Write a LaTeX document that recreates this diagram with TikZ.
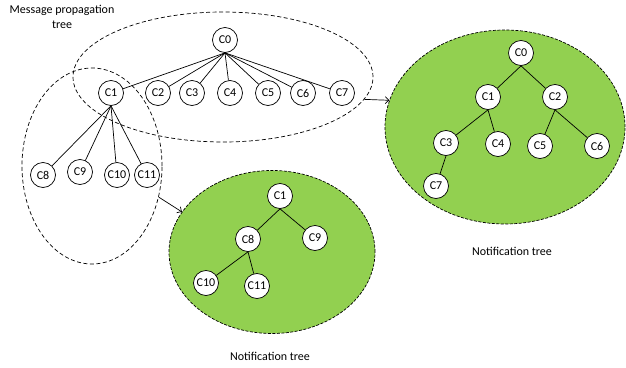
\documentclass[tikz,border=0pt]{standalone}
\usepackage{fontspec}
\setmainfont{Carlito}
\usetikzlibrary{shapes.geometric, arrows.meta}
\definecolor{notifgreen}{RGB}{146,208,80}
\tikzset{
  cnode/.style={circle, draw, fill=white, minimum size=25pt, inner sep=0pt, font=\fontsize{12}{14}\selectfont},
  grouparea/.style={ellipse, draw, dash pattern=on 4pt off 2.5pt, inner sep=0pt},
  notifarea/.style={ellipse, draw, fill=notifgreen, dash pattern=on 3pt off 1.5pt, inner sep=0pt},
  treelabel/.style={font=\fontsize{12}{15.5}\selectfont, align=center}
}
\begin{document}
\begin{tikzpicture}[x=1pt, y=-1pt, line width=0.7pt]
    \useasboundingbox (0,0) rectangle (626,367);

    % Grouping areas
    \node[grouparea, minimum width=300pt, minimum height=130pt] (propA) at (223,77) {};
    \node[grouparea, minimum width=140pt, minimum height=196pt] (propB) at (92,166) {};
    \node[notifarea, minimum width=240pt, minimum height=194pt] (notifA) at (505,127) {};
    \node[notifarea, minimum width=206pt, minimum height=163pt] (notifB) at (272,252) {};

    % Message propagation tree
    \node[cnode] (m0) at (225,40) {C0};
    \node[cnode] (m1) at (111,93) {C1};
    \node[cnode] (m2) at (158,93) {C2};
    \node[cnode] (m3) at (192,93) {C3};
    \node[cnode] (m4) at (230,93) {C4};
    \node[cnode] (m5) at (268,93) {C5};
    \node[cnode] (m6) at (303,93) {C6};
    \node[cnode] (m7) at (342,93) {C7};
    \node[cnode] (m8) at (43,175) {C8};
    \node[cnode] (m9) at (80,172) {C9};
    \node[cnode] (m10) at (117,175) {C10};
    \node[cnode] (m11) at (147,175) {C11};
    \foreach \c in {1,...,7} \draw (m0.south) -- (m\c);
    \foreach \c in {8,...,11} \draw (m1.south) -- (m\c);
    \node[treelabel] (propT) at (62,17) {Message propagation\\tree};

    % Notification tree of C0
    \node[cnode] (a0) at (521,53) {C0};
    \node[cnode] (a1) at (488,97) {C1};
    \node[cnode] (a2) at (555,97) {C2};
    \node[cnode] (a3) at (446,143) {C3};
    \node[cnode] (a4) at (498,144) {C4};
    \node[cnode] (a5) at (540,146) {C5};
    \node[cnode] (a6) at (597,146) {C6};
    \node[cnode] (a7) at (436,186) {C7};
    \foreach \p/\c in {0/1,0/2,1/3,1/4,2/5,2/6,3/7} \draw (a\p.south) -- (a\c);
    \node[treelabel] (notifAT) at (512,251) {Notification tree};

    % Notification tree of C1
    \node[cnode] (b1) at (280,196) {C1};
    \node[cnode] (b8) at (248,239) {C8};
    \node[cnode] (b9) at (315,238) {C9};
    \node[cnode] (b10) at (206,283) {C10};
    \node[cnode] (b11) at (257,286) {C11};
    \foreach \p/\c in {1/8,1/9,8/10,8/11} \draw (b\p.south) -- (b\c);
    \node[treelabel] (notifBT) at (270,356) {Notification tree};

    % Arrows
    \draw[-{Straight Barb[length=3.5pt, width=7pt]}] (propA.-9.4) -- (notifA.167.8);
    \draw[-{Straight Barb[length=3.5pt, width=7pt]}] (propB.-25.9) -- (notifB.156.8);
\end{tikzpicture}
\end{document}
